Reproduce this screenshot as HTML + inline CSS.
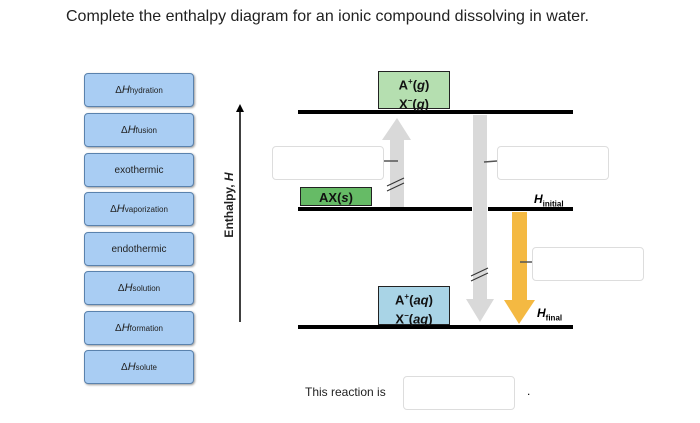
<!DOCTYPE html>
<html><head><style>
body{margin:0;width:700px;height:423px;background:#fff;font-family:"Liberation Sans",sans-serif;position:relative;overflow:hidden}
.a{position:absolute}
.t{position:absolute;left:84px;width:108px;height:32px;background:#a9cdf3;border:1px solid #5a82ad;border-radius:4px;box-shadow:1px 1px 2px #999;font-size:10px;color:#222;display:flex;align-items:center;justify-content:center}
.t i{font-size:11px}
sub{font-size:8px}
.in{position:absolute;border:1px solid #ddd;border-radius:4px;background:#fff}
.ln{position:absolute;height:4px;background:#000}
.sp{position:absolute;border:1.5px solid #222;font-weight:bold;font-size:13px;text-align:center;line-height:16px;color:#111}
</style></head><body>
<div class="a" style="left:66px;top:8px;font-size:16px;color:#222">Complete the enthalpy diagram for an ionic compound dissolving in water.</div>
<div class="t" style="top:73px">Δ<i>H</i><sub>hydration</sub></div>
<div class="t" style="top:113px">Δ<i>H</i><sub>fusion</sub></div>
<div class="t" style="top:153px">exothermic</div>
<div class="t" style="top:192px">Δ<i>H</i><sub>vaporization</sub></div>
<div class="t" style="top:232px">endothermic</div>
<div class="t" style="top:271px">Δ<i>H</i><sub>solution</sub></div>
<div class="t" style="top:311px">Δ<i>H</i><sub>formation</sub></div>
<div class="t" style="top:350px">Δ<i>H</i><sub>solute</sub></div>
<svg class="a" style="left:0;top:0" width="700" height="423">
<line x1="240" y1="110" x2="240" y2="322" stroke="#000" stroke-width="1.5"/>
<polygon points="236,112 244,112 240,104" fill="#000"/>
<text x="233" y="205" transform="rotate(-90 233 205)" font-size="12" font-weight="bold" text-anchor="middle" font-family="Liberation Sans" fill="#222">Enthalpy, <tspan font-style="italic">H</tspan></text>
<!-- gray up -->
<rect x="390" y="138" width="14" height="70" fill="#d9d9d9"/>
<polygon points="382,140 411,140 397,118" fill="#d9d9d9"/>
<!-- gray down -->
<rect x="473" y="115" width="14" height="186" fill="#d9d9d9"/>
<polygon points="466,299 494,299 480,322" fill="#d9d9d9"/>
<!-- yellow -->
<rect x="512" y="212" width="15" height="90" fill="#f4b942"/>
<polygon points="504,300 535,300 519,324" fill="#f4b942"/>
<line x1="387" y1="186" x2="404" y2="178" stroke="#333" stroke-width="1"/>
<line x1="387" y1="191" x2="404" y2="183" stroke="#333" stroke-width="1"/>
<line x1="471" y1="276" x2="488" y2="268" stroke="#333" stroke-width="1"/>
<line x1="471" y1="281" x2="488" y2="273" stroke="#333" stroke-width="1"/>
<line x1="382" y1="161" x2="398" y2="161" stroke="#555" stroke-width="1.5"/>
<line x1="484" y1="162" x2="497" y2="161" stroke="#555" stroke-width="1.5"/>
<line x1="520" y1="262" x2="532" y2="262" stroke="#555" stroke-width="1.5"/>
</svg>
<div class="ln" style="left:298px;top:110px;width:275px"></div>
<div class="ln" style="left:298px;top:207px;width:174px"></div>
<div class="ln" style="left:488px;top:207px;width:85px"></div>
<div class="ln" style="left:298px;top:325px;width:275px"></div>
<div class="sp" style="left:378px;top:71px;width:72px;height:38px;background:#b5dfb0;padding-top:2px;box-sizing:border-box">A<sup style="font-size:8px">+</sup>(<i>g</i>)<br>X<sup style="font-size:8px">−</sup>(<i>g</i>)</div>
<div class="sp" style="left:300px;top:187px;width:72px;height:19px;background:#66bb66;line-height:19px;box-sizing:border-box">AX(<i>s</i>)</div>
<div class="sp" style="left:378px;top:286px;width:72px;height:39px;background:#a9d4e6;padding-top:2px;box-sizing:border-box">A<sup style="font-size:8px">+</sup>(<i>aq</i>)<br>X<sup style="font-size:8px">−</sup>(<i>aq</i>)</div>
<div class="a" style="left:534px;top:192px;font-size:12px;font-weight:bold"><i>H</i><sub>initial</sub></div>
<div class="a" style="left:537px;top:306px;font-size:12px;font-weight:bold"><i>H</i><sub>final</sub></div>
<div class="in" style="left:272px;top:146px;width:110px;height:32px"></div>
<div class="in" style="left:497px;top:146px;width:110px;height:32px"></div>
<div class="in" style="left:532px;top:247px;width:110px;height:32px"></div>
<div class="in" style="left:403px;top:376px;width:110px;height:32px"></div>
<div class="a" style="left:305px;top:385px;font-size:12px;color:#222">This reaction is</div>
<div class="a" style="left:527px;top:384px;font-size:12px">.</div>
</body></html>
